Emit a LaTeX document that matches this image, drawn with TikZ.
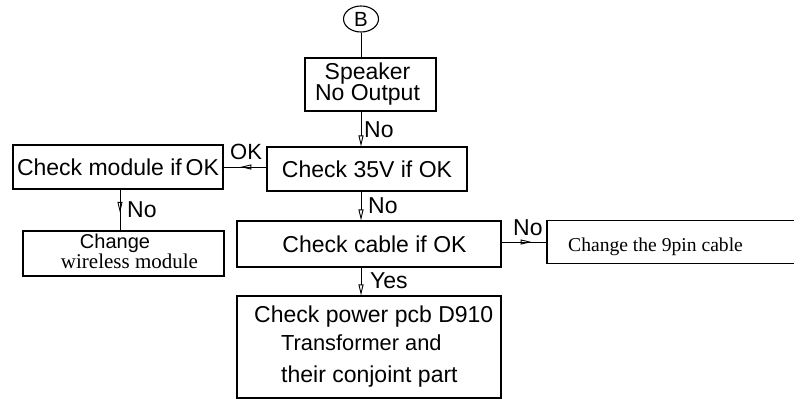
\documentclass[tikz,border=0pt]{standalone}
\usepackage{fontspec}
\setmainfont{Liberation Sans}
\newfontfamily\serifface{Liberation Serif}
\usetikzlibrary{arrows.meta,decorations.markings,shapes.geometric}

\tikzset{
  boxnode/.style={draw, line width=1.1pt, inner sep=0pt, align=center,
    font=\fontsize{23}{21}\selectfont},
  txt/.style={inner sep=0pt, anchor=base west, font=\fontsize{23}{21}\selectfont},
  flow/.style={line width=0.9pt, -{Triangle[open, length=11pt, width=5pt]}},
  plain/.style={line width=0.9pt},
  midflow/.style={line width=0.9pt, postaction={decorate},
    decoration={markings, mark=at position #1 with {\arrow[line width=0.9pt]{Triangle[open, length=11pt, width=5pt]}}}},
}

\begin{document}
\begin{tikzpicture}[x=1pt, y=-1pt]
\clip (0,0) rectangle (794,400);
\fill[white] (0,0) rectangle (794,400);

% start connector
\node[draw, ellipse, line width=1.1pt, minimum width=35pt, minimum height=26pt, inner sep=0pt,
  font=\fontsize{20.5}{20}\selectfont] (B) at (361,19) {B};

% boxes
\node[boxnode, minimum width=131pt, minimum height=53pt] (speaker) at (370.5,84.5)
  {\hspace*{-6pt}Speaker\\\hspace*{-6pt}No Output};
\node[boxnode, minimum width=200pt, minimum height=44pt] (c35) at (367,169) {Check 35V if OK};
\node[boxnode, minimum width=210pt, minimum height=44pt] (module) at (118,167) {Check module if\,OK};
\node[boxnode, minimum width=201pt, minimum height=45pt] (change) at (123.5,253.5) {};
\node[boxnode, minimum width=264pt, minimum height=46pt] (cable) at (369,244)
  {\hspace*{11pt}Check cable if OK};
\node[boxnode, minimum width=264pt, minimum height=102pt] (power) at (369,347) {};
\node[boxnode, minimum width=262pt, minimum height=43pt] (pin9) at (678,242) {};

% box texts
\node[inner sep=0pt, anchor=base, font=\fontsize{20}{20}\selectfont] (tchange) at (115,248.5) {Change};
\node[inner sep=0pt, anchor=base, font=\serifface\fontsize{21}{20}\selectfont] (twireless) at (129.5,268) {wireless module};
\node[txt] (tpower) at (254,322) {Check power pcb D910};
\node[txt, font=\fontsize{21.8}{20}\selectfont] (ttrans) at (281,350) {Transformer and};
\node[txt] (tconj) at (281,382) {their conjoint part};
\node[inner sep=0pt, anchor=base west, font=\serifface\fontsize{19.6}{20}\selectfont] (tpin) at (568,251) {Change the 9pin cable};

% connectors
\draw[plain] (B.south) -- (B.south |- speaker.north);
\draw[flow] (B.south |- speaker.south) -- (B.south |- c35.north);
\draw[midflow=0.61] (c35.west |- module.east) -- (module.east);
\draw[midflow=0.57] ([xshift=2pt]module.south) -- ([xshift=2pt]module.south |- change.north);
\draw[flow] (B.south |- c35.south) -- (B.south |- cable.north);
\draw[midflow=0.67] (cable.east |- pin9.west) -- (pin9.west);
\draw[flow] (B.south |- cable.south) -- (B.south |- power.north);

% connector labels
\node[txt] (l1) at (364,137) {No};
\node[txt, font=\fontsize{22}{20}\selectfont] (l2) at (230,159) {OK};
\node[txt] (l3) at (127,217) {No};
\node[txt] (l4) at (368,213) {No};
\node[txt] (l5) at (370,288) {Yes};
\node[txt] (l6) at (513,235) {No};
\end{tikzpicture}
\end{document}
